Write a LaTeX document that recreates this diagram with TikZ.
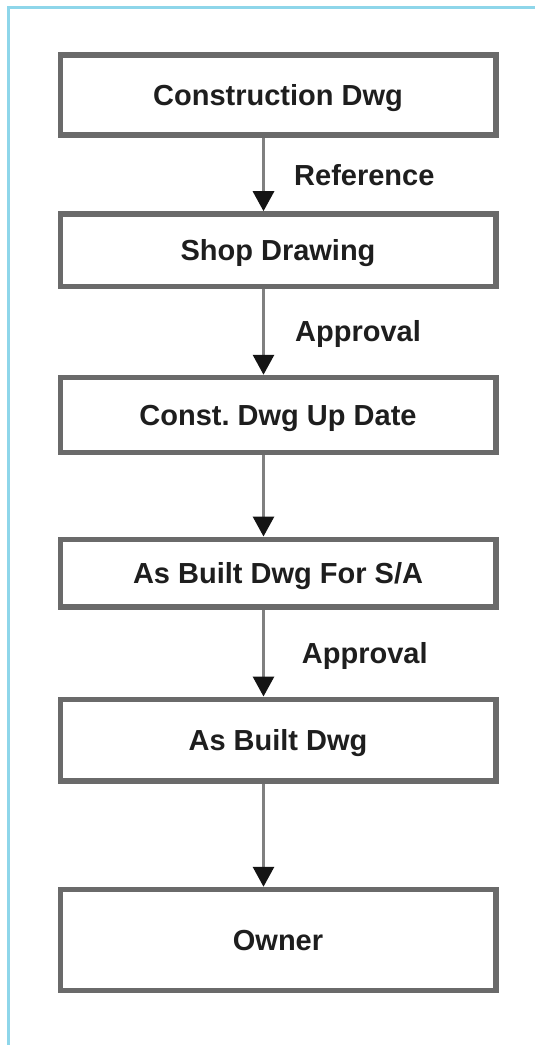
\documentclass[tikz,border=0pt]{standalone}
\usepackage{fontspec}
\setmainfont{Liberation Sans}
\usetikzlibrary{arrows.meta}
\frenchspacing
\definecolor{framecol}{HTML}{8ED6EA}
\definecolor{boxline}{HTML}{6A6A6A}
\definecolor{arrline}{HTML}{808080}
\definecolor{txt}{HTML}{1E1E1E}
\tikzset{
  x=1pt, y=1pt,
  box/.style={draw=boxline, line width=5.5pt, fill=white, minimum width=435.5pt,
    inner sep=0pt, text=txt, font=\fontsize{29}{34}\selectfont\bfseries,
    text height=20.8pt, text depth=0pt},
  lbl/.style={inner sep=0pt, text=txt, font=\fontsize{29}{34}\selectfont\bfseries, anchor=base west},
  arr/.style={draw=arrline, line width=3pt, -{Triangle[width=21pt,length=20pt,color=black!92]}},
  frame/.style={draw=framecol, line width=2.5pt}
}
\begin{document}
\begin{tikzpicture}
\useasboundingbox (0,0) rectangle (535,-1045);
\fill[white] (0,0) rectangle (535,-1045);
\draw[frame] (540,-7.3) -- (8.5,-7.3) -- (8.5,-1050);

\node[box, minimum height=80pt]   (b1) at (278,-95)  {Construction Dwg};
\node[box, minimum height=72.7pt] (b2) at (278,-250.3) {Shop Drawing};
\node[box, minimum height=75pt]   (b3) at (278,-415) {Const. Dwg Up Date};
\node[box, minimum height=67.5pt] (b4) at (278,-573) {As Built Dwg For S/A};
\node[box, minimum height=81.5pt] (b5) at (278,-740) {As Built Dwg};
\node[box, minimum height=101pt]  (b6) at (278,-940) {Owner};

\coordinate (ax) at (263.5,0);
\draw[arr] (b1.south -| ax) -- (b2.north -| ax);
\draw[arr] (b2.south -| ax) -- (b3.north -| ax);
\draw[arr] (b3.south -| ax) -- (b4.north -| ax);
\draw[arr] (b4.south -| ax) -- (b5.north -| ax);
\draw[arr] (b5.south -| ax) -- (b6.north -| ax);

\node[lbl] (l1) at (294,-185) {Reference};
\node[lbl] (l2) at (295,-341.7) {Approval};
\node[lbl] (l3) at (301.7,-663) {Approval};
\end{tikzpicture}
\end{document}
